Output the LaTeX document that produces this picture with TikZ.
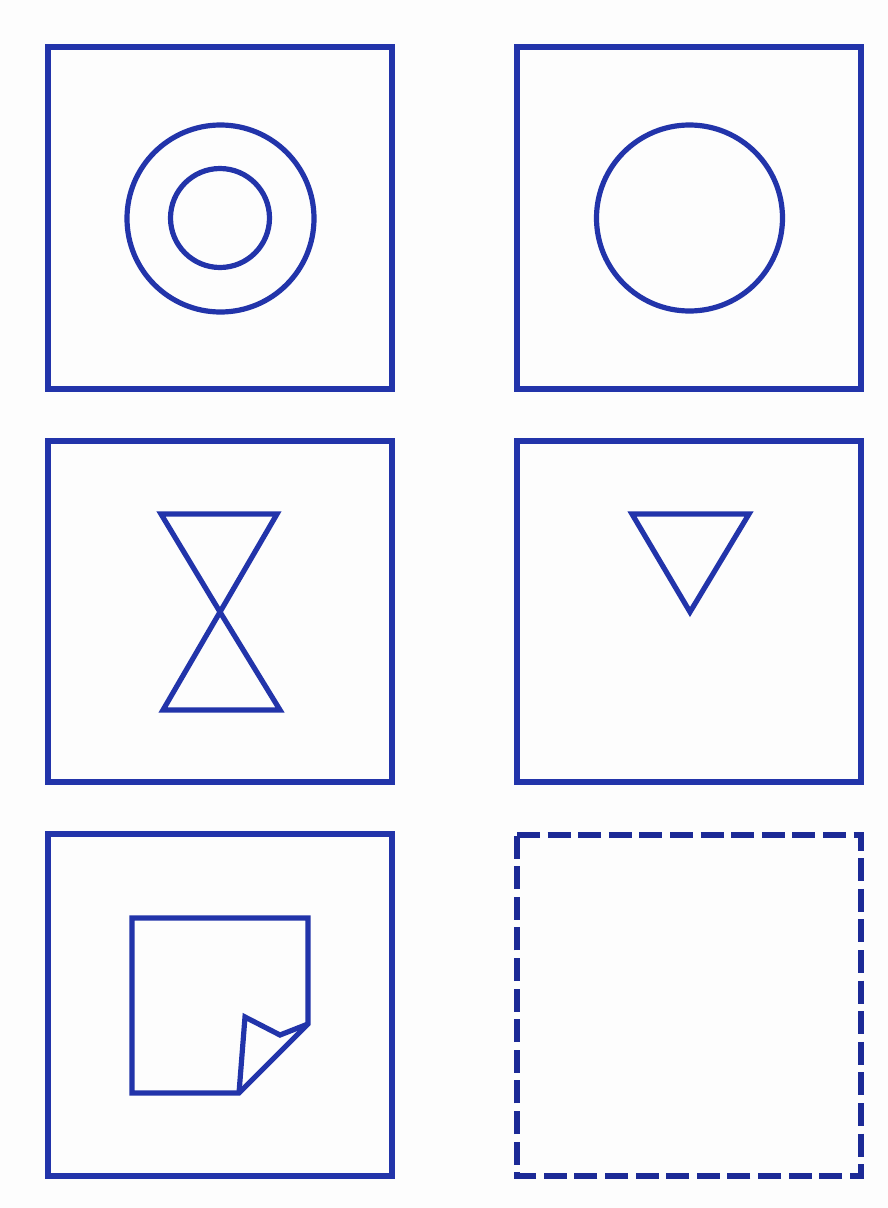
\documentclass[tikz,border=0pt]{standalone}
\usetikzlibrary{calc}
\definecolor{ink}{RGB}{34,52,170}
\definecolor{inkdark}{RGB}{28,42,150}
\definecolor{paper}{RGB}{253,253,253}
\begin{document}
\begin{tikzpicture}[x=1pt,y=-1pt,
  frame/.style={draw=ink,line width=5.6pt,line join=miter},
  glyph/.style={draw=ink,line width=5.2pt,line join=miter},
  dashframe/.style={draw=inkdark,line width=5.6pt,dash pattern=on 23pt off 7.6pt}]
\fill[paper] (0,0) rectangle (888,1208);
\useasboundingbox (0,0) rectangle (888,1208);
% frames
\draw[frame] (48,47) rectangle (392,389);
\draw[frame] (517,47) rectangle (861,389);
\draw[frame] (48,441) rectangle (392,782);
\draw[frame] (517,441) rectangle (861,782);
\draw[frame] (48,834) rectangle (392,1176);
\draw[dashframe] (517,835) -- (861,835) -- (861,1176) -- (517,1176) -- cycle;
% circles
\draw[glyph] (220.5,218.5) circle (93.5);
\draw[glyph] (220,218) circle (49.5);
\draw[glyph] (689.5,218) circle (93);
% hourglass
\draw[glyph] (161,514) -- (277,514) -- (220,612) -- cycle;
\draw[glyph] (220,612) -- (280,710) -- (163,710) -- cycle;
% triangle
\draw[glyph] (632,514) -- (749,514) -- (690,612) -- cycle;
% page with curl
\draw[glyph] (132,918) -- (308,918) -- (308,1024) -- (239,1093) -- (132,1093) -- cycle;
\draw[glyph] (239,1093) -- (245,1017) -- (280,1035) -- (308,1024);
\end{tikzpicture}
\end{document}
